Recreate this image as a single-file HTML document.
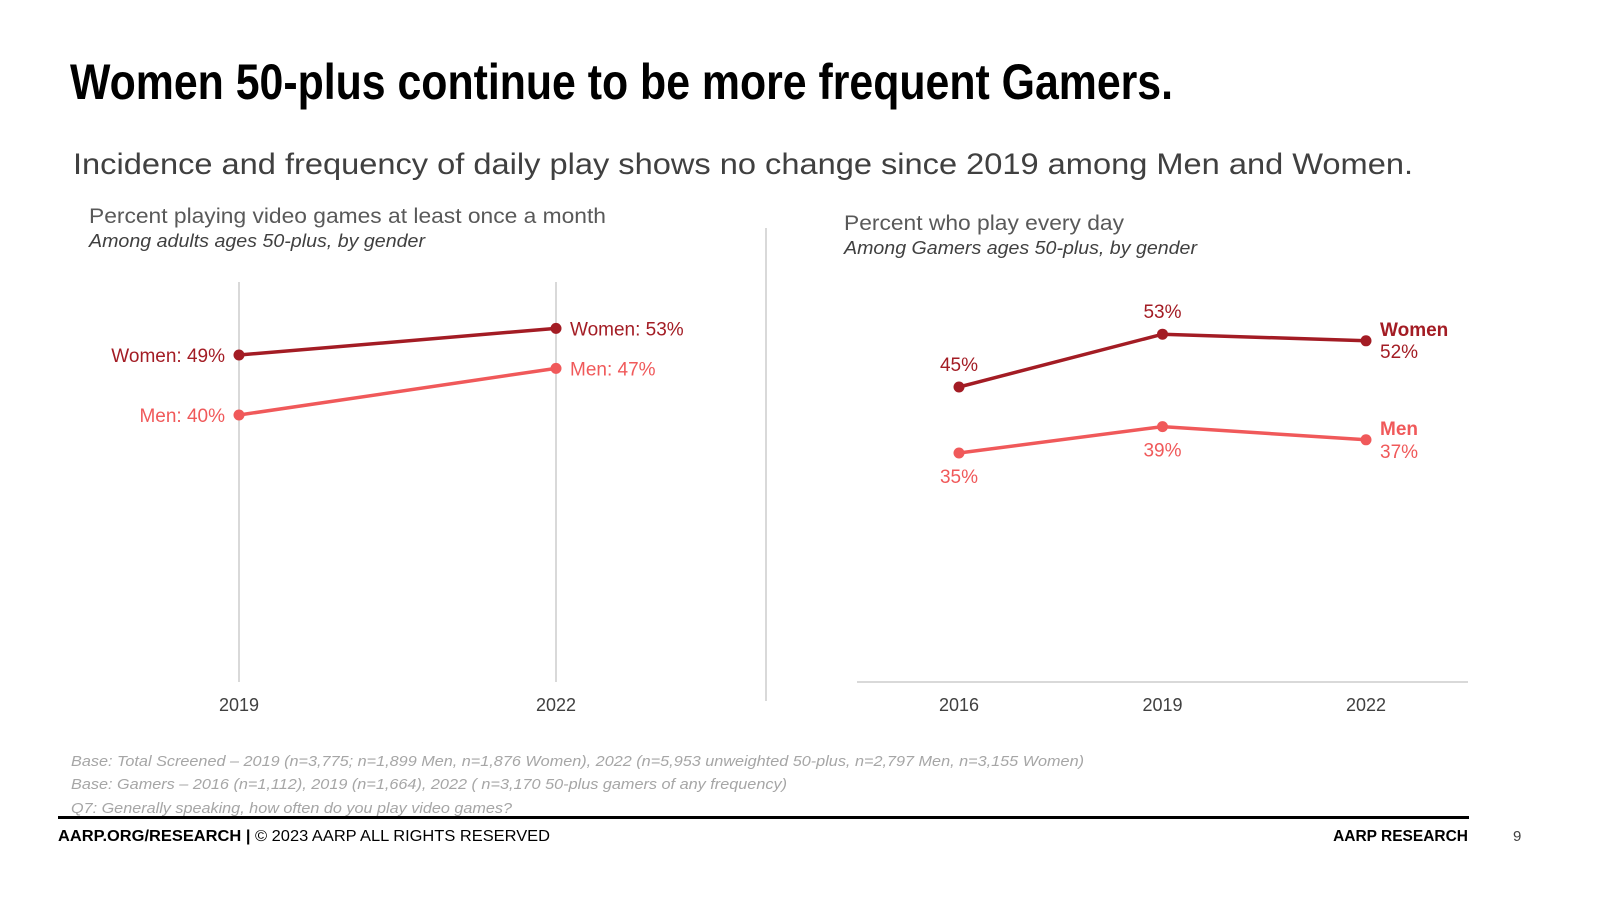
<!DOCTYPE html>
<html><head><meta charset="utf-8"><style>
html,body{margin:0;padding:0;background:#fff;}
svg{display:block;font-family:"Liberation Sans",Arial,sans-serif;}
</style></head><body>
<svg id="s" width="1600" height="900" viewBox="0 0 1600 900">
<text x="70" y="99" font-size="50" font-weight="bold" fill="#000" textLength="1103" lengthAdjust="spacingAndGlyphs">Women 50-plus continue to be more frequent Gamers.</text>
<text x="73" y="174" font-size="30" fill="#404040" textLength="1340" lengthAdjust="spacingAndGlyphs">Incidence and frequency of daily play shows no change since 2019 among Men and Women.</text>
<text x="89" y="223" font-size="21" fill="#595959" textLength="517" lengthAdjust="spacingAndGlyphs">Percent playing video games at least once a month</text>
<text x="89" y="247" font-size="18" font-style="italic" fill="#404040" textLength="336" lengthAdjust="spacingAndGlyphs">Among adults ages 50-plus, by gender</text>
<text x="844" y="230" font-size="21" fill="#595959" textLength="280" lengthAdjust="spacingAndGlyphs">Percent who play every day</text>
<text x="844" y="254" font-size="18" font-style="italic" fill="#404040" textLength="353" lengthAdjust="spacingAndGlyphs">Among Gamers ages 50-plus, by gender</text>
<line x1="766" y1="228" x2="766" y2="701" stroke="#d9d9d9" stroke-width="2"/>
<g id="left"></g>
<g id="right"></g>
<text x="71" y="766" font-size="14.5" font-style="italic" fill="#a6a6a6" textLength="1013" lengthAdjust="spacingAndGlyphs">Base: Total Screened – 2019 (n=3,775; n=1,899 Men, n=1,876 Women), 2022 (n=5,953 unweighted 50-plus, n=2,797 Men, n=3,155 Women)</text>
<text x="71" y="789" font-size="14.5" font-style="italic" fill="#a6a6a6" textLength="716" lengthAdjust="spacingAndGlyphs">Base: Gamers – 2016 (n=1,112), 2019 (n=1,664), 2022 ( n=3,170 50-plus gamers of any frequency)</text>
<text x="71" y="813" font-size="14.5" font-style="italic" fill="#a6a6a6" textLength="441" lengthAdjust="spacingAndGlyphs">Q7: Generally speaking, how often do you play video games?</text>
<rect x="58" y="816" width="1411" height="3" fill="#000"/>
<text x="58" y="841" font-size="15.5" fill="#000" textLength="492" lengthAdjust="spacingAndGlyphs"><tspan font-weight="bold">AARP.ORG/RESEARCH |</tspan> © 2023 AARP ALL RIGHTS RESERVED</text>
<text x="1468" y="841" font-size="15.5" font-weight="bold" fill="#000" text-anchor="end">AARP RESEARCH</text>
<text x="1513" y="841" font-size="15" fill="#404040">9</text>
</svg>
<script>
const NS='http://www.w3.org/2000/svg';
const leftYears=['2019','2022'];
const leftWomen=[49,53];
const leftMen=[40,47];
const rightYears=['2016','2019','2022'];
const rightWomen=[45,53,52];
const rightMen=[35,39,37];
const WC='#a31c24', MC='#f0595a';
function mk(parent,tag,attrs,txt){const e=document.createElementNS(NS,tag);for(const k in attrs)e.setAttribute(k,attrs[k]);if(txt!==undefined)e.textContent=txt;parent.appendChild(e);return e;}
// left chart scales
const lx=i=>239+i*(556-239)/(leftYears.length-1);
const ly=v=>681.7-v*6.667;
const L=document.getElementById('left');
leftYears.forEach((y,i)=>{
 const g=mk(L,'line',{x1:lx(i),y1:282,x2:lx(i),y2:682,stroke:'#d9d9d9','stroke-width':2});
 
 
 const t=mk(L,'text',{x:lx(i),y:711,'font-size':18,fill:'#404040','text-anchor':'middle'},y);
 
 
});
function series(P,xs,ys,vals,color,name){
 const pts=vals.map((v,i)=>xs(i)+','+ys(v)).join(' ');
 const l=mk(P,'polyline',{points:pts,fill:'none',stroke:color,'stroke-width':3.5});
 
 
 vals.forEach((v,i)=>{
  const c=mk(P,'circle',{cx:xs(i),cy:ys(v),r:5.5,fill:color});
  
  
 });
}
series(L,lx,ly,leftWomen,WC,'left-women');
series(L,lx,ly,leftMen,MC,'left-men');
function lab(P,x,y,anchor,color,txt,name,bold){
 const t=mk(P,'text',{x:x,y:y,'font-size':19,fill:color,'text-anchor':anchor,'font-weight':bold?'bold':'normal'},txt);
 
 
}
lab(L,225,ly(leftWomen[0])+7,'end',WC,'Women: '+leftWomen[0]+'%','left-women-label-start');
lab(L,570,ly(leftWomen[1])+7,'start',WC,'Women: '+leftWomen[1]+'%','left-women-label-end');
lab(L,225,ly(leftMen[0])+7,'end',MC,'Men: '+leftMen[0]+'%','left-men-label-start');
lab(L,570,ly(leftMen[1])+7,'start',MC,'Men: '+leftMen[1]+'%','left-men-label-end');
// right chart
const rx=i=>959+i*(1366-959)/(rightYears.length-1);
const ry=v=>684-v*6.6;
const R=document.getElementById('right');
const ax=mk(R,'line',{x1:857,y1:682,x2:1468,y2:682,stroke:'#d9d9d9','stroke-width':2});


rightYears.forEach((y,i)=>{
 const t=mk(R,'text',{x:rx(i),y:711,'font-size':18,fill:'#404040','text-anchor':'middle'},y);
 
 
});
series(R,rx,ry,rightWomen,WC,'right-women');
series(R,rx,ry,rightMen,MC,'right-men');
const last=rightYears.length-1;
rightWomen.forEach((v,i)=>{ if(i<last) lab(R,rx(i),ry(v)-16,'middle',WC,v+'%','right-women-value-'+rightYears[i]); });
rightMen.forEach((v,i)=>{ if(i<last) lab(R,rx(i),ry(v)+30,'middle',MC,v+'%','right-men-value-'+rightYears[i]); });
lab(R,1380,ry(rightWomen[last])-5,'start',WC,'Women','right-women-legend',true);
lab(R,1380,ry(rightWomen[last])+17,'start',WC,rightWomen[last]+'%','right-women-value-'+rightYears[last]);
lab(R,1380,ry(rightMen[last])-5,'start',MC,'Men','right-men-legend',true);
lab(R,1380,ry(rightMen[last])+18,'start',MC,rightMen[last]+'%','right-men-value-'+rightYears[last]);
</script>
</body></html>
